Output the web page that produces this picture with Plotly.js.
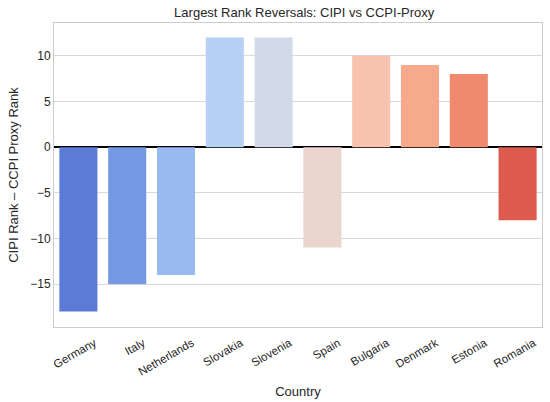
<!DOCTYPE html>
<html>
<head>
<meta charset="utf-8">
<script src="https://cdn.plot.ly/plotly-3.0.1.min.js"></script>
<style>html,body{margin:0;padding:0;background:#fff;}#chart{width:550px;height:402px;}</style>
</head>
<body>
<div id="chart"></div>
<script>
const countries = ["Germany","Italy","Netherlands","Slovakia","Slovenia","Spain","Bulgaria","Denmark","Estonia","Romania"];
const rankDiff = [-18,-15,-14,12,12,-11,10,9,8,-8];
const barColors = ["#5b7bd6","#7399e4","#98b9f2","#b7d0f4","#d1dae8","#ead6ce","#f7c3ae","#f7a98b","#f08a6f","#dd5a4e"];
const yTicks = [-15,-10,-5,0,5,10];

const trace = {
  type: "bar",
  x: countries,
  y: rankDiff,
  marker: {color: barColors, line: {width: 0}},
  hoverinfo: "x+y"
};

const layout = {
  width: 550, height: 402,
  margin: {l: 54, r: 8, t: 23, b: 75},
  paper_bgcolor: "#ffffff",
  plot_bgcolor: "#ffffff",
  font: {family: "Liberation Sans, Arial, sans-serif", color: "#262626", size: 12},
  title: {text: "Largest Rank Reversals: CIPI vs CCPI-Proxy", font: {size: 13, color: "#262626"}, x: 0.553, xanchor: "center", y: 0.97, yanchor: "middle"},
  bargap: 0.22,
  showlegend: false,
  xaxis: {
    title: {text: "Country", font: {size: 13}, standoff: 10},
    tickangle: -30,
    showgrid: false,
    showline: true, mirror: true, linecolor: "#cccccc", linewidth: 1,
    ticks: "", tickfont: {size: 11.5},
    ticklabelshift: 16, ticklabelstandoff: 4
  },
  yaxis: {
    title: {text: "CIPI Rank – CCPI Proxy Rank", font: {size: 13}, standoff: 8},
    range: [-19.7, 13.6],
    tickvals: yTicks,
    ticktext: yTicks.map(v => v < 0 ? "\u2212" + Math.abs(v) : String(v)),
    showgrid: true, gridcolor: "#d9d9d9", gridwidth: 1,
    zeroline: true, zerolinecolor: "#000000", zerolinewidth: 1.5,
    showline: true, mirror: true, linecolor: "#cccccc", linewidth: 1,
    ticks: "", tickfont: {size: 12}
  }
};

Plotly.newPlot("chart", [trace], layout, {displayModeBar: false, staticPlot: true});
</script>
</body>
</html>
